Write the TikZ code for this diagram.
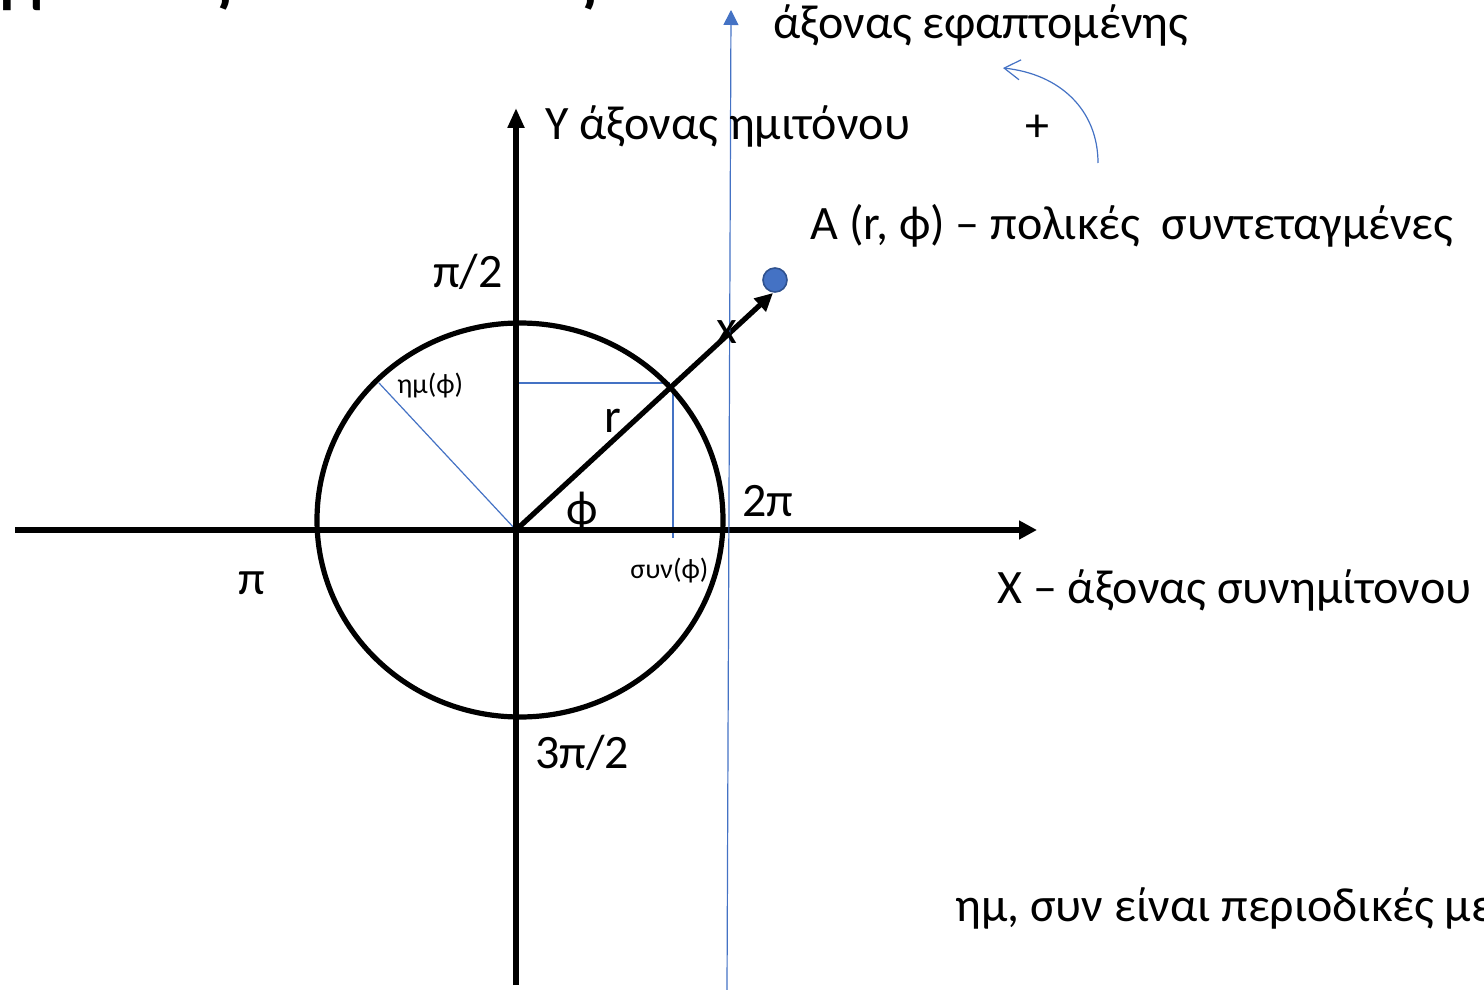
\documentclass[tikz,border=0pt]{standalone}
\usepackage{fontspec}
\setmainfont{Carlito}
\usetikzlibrary{arrows.meta}
\definecolor{ublue}{HTML}{4472C4}
\definecolor{dblue}{HTML}{2F528F}
\begin{document}
\begin{tikzpicture}[x=0.5pt,y=-0.5pt,
  axisline/.style={line width=2.6pt, black},
  blueline/.style={line width=0.6pt, ublue},
  lbl/.style={font=\fontsize{24}{28}\selectfont, inner sep=0pt},
  smalllbl/.style={font=\fontsize{14}{16}\selectfont, inner sep=0pt},
  titlelbl/.style={font=\fontsize{44}{50}\selectfont, inner sep=0pt}]
\useasboundingbox (0,0) rectangle (1484,990);
\clip (0,0) rectangle (1484,990);
% coordinates
\coordinate (O) at (516,530);
\coordinate (C) at (520,520);
\coordinate (Xs) at (15,530);
\coordinate (Xe) at (1037,530);
\coordinate (Ys) at (516,985);
\coordinate (Ye) at (516,108);
\coordinate (Atip) at (773,293);
\coordinate (P) at (670,383);
\coordinate (Py) at (516,383);
\coordinate (Ptop) at (673,383);
\coordinate (Pbot) at (673,538);
\coordinate (Q) at (379,383);
\coordinate (Ts) at (727,990);
\coordinate (Te) at (731,10);
\coordinate (Cs) at (1098,163);
\coordinate (Ce) at (1003,68);
% title (cut off at top edge)
\node[titlelbl, anchor=base east] (t1) at (232,-3) {Συντεταγμένες};
\node[titlelbl, anchor=base east] (t2) at (597,-3) {πολικές};
% blue thin lines
\draw[blueline] (Py) -- (P);
\draw[blueline] (Ptop) -- (Pbot);
\draw[blueline] (O) -- (Q);
% axes
\draw[axisline, -{Triangle[length=9pt,width=9pt]}] (Xs) -- (Xe);
\draw[axisline, -{Triangle[length=10pt,width=8pt]}] (Ys) -- (Ye);
% circle
\draw[axisline] (C) ellipse [x radius=101.5pt, y radius=98.5pt];
% radius vector
\draw[axisline, -{Triangle[length=9pt,width=8.5pt]}] (O) -- (Atip);
% point A
\node[circle, fill=ublue, draw=dblue, line width=0.8pt, minimum size=12pt, inner sep=0pt] (A) at (775,280) {};
% tangent axis
\draw[blueline, -{Triangle[length=7.5pt,width=7.5pt]}] (Ts) -- (Te);
% curved arrow
\draw[blueline, -{Straight Barb[length=8pt,width=10pt]}] (Cs) .. controls (1098,110) and (1060,74) .. (Ce);
% labels
\node[lbl, anchor=base west] (ylab) at (545,140) {Y άξονας ημιτόνου};
\node[lbl] (plus) at (1037,128) {+};
\node[lbl, anchor=base west] (tlab) at (773,39) {άξονας εφαπτομένης};
\node[lbl, anchor=base west] (alab) at (810,240) {A (r, ϕ) – πολικές\ \ συντεταγμένες};
\node[lbl, anchor=base east] (pi2) at (503,287) {π/2};
\node[smalllbl, anchor=base west] (hm) at (397,393) {ημ(ϕ)};
\node[lbl, anchor=base] (rl) at (613,432) {r};
\node[lbl] (xl) at (727,332) {x};
\node[lbl] (phil) at (582,512) {ϕ};
\node[lbl, anchor=base west] (tpi) at (742,516) {2π};
\node[lbl, anchor=base] (pil) at (252,594) {π};
\node[smalllbl, anchor=base west] (sn) at (630,578) {συν(ϕ)};
\node[lbl, anchor=base west] (xlab) at (997,603) {X – άξονας συνημίτονου};
\node[lbl, anchor=base west] (tpi2) at (535,768) {3π/2};
\node[lbl, anchor=base west] (per) at (955,921) {ημ, συν είναι περιοδικές με};
\end{tikzpicture}
\end{document}
